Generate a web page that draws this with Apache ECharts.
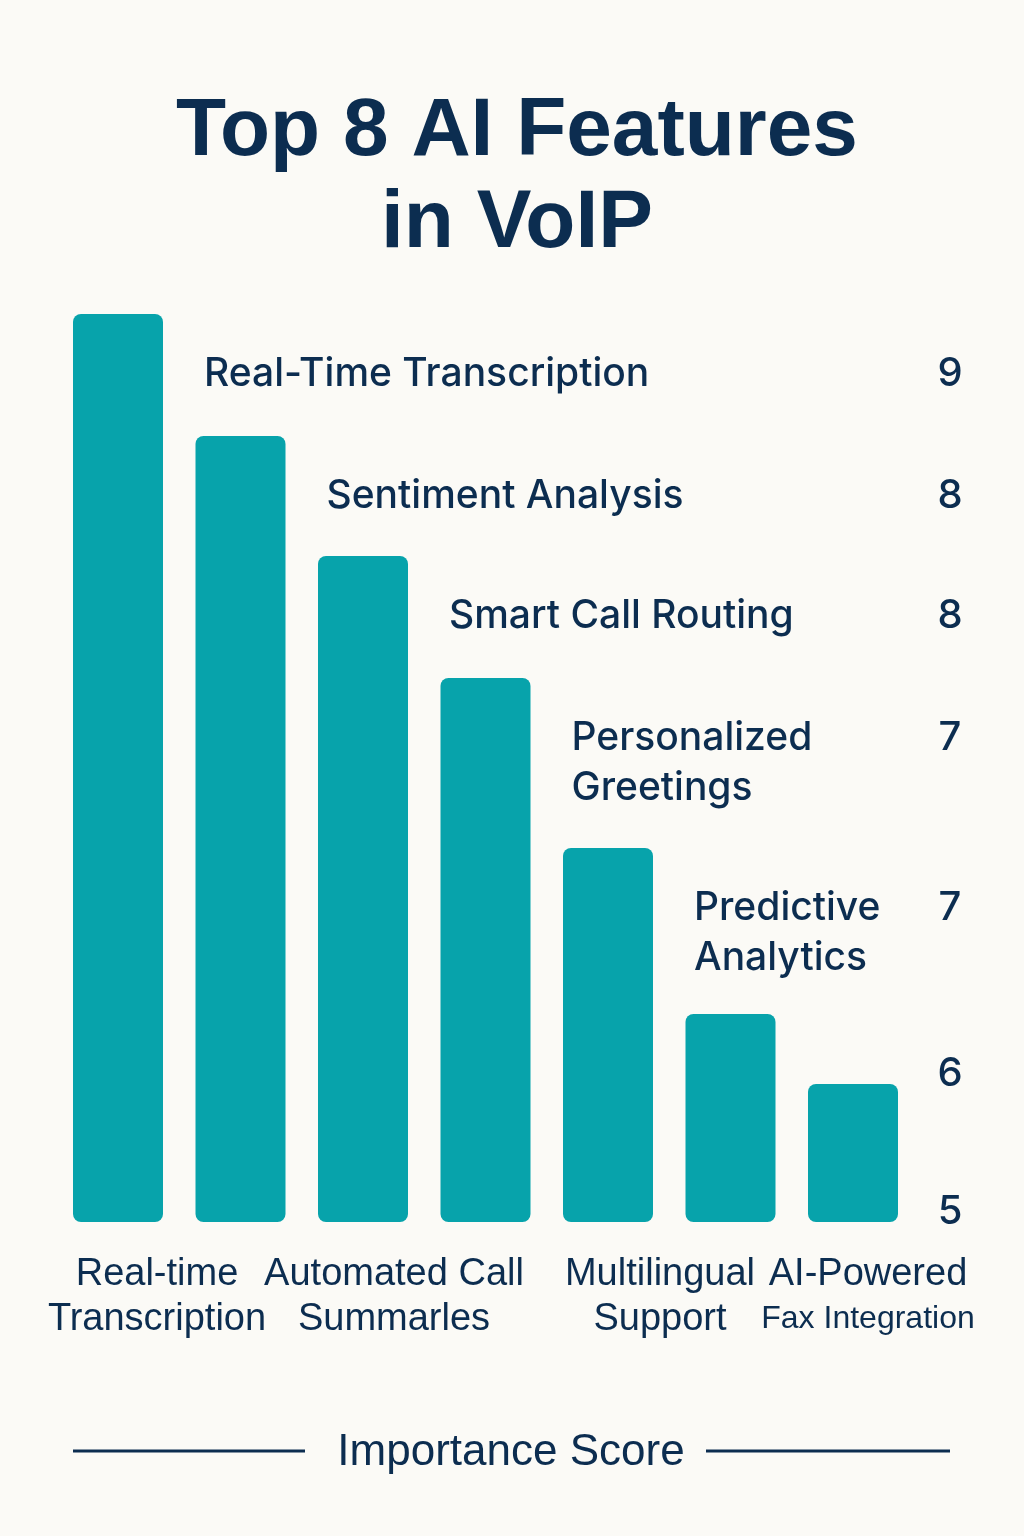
<!DOCTYPE html>
<html>
<head>
<meta charset="utf-8">
<title>Top 8 AI Features in VoIP</title>
<script src="https://cdn.jsdelivr.net/npm/echarts@6/dist/echarts.min.js"></script>
<style>
    html, body { margin: 0; padding: 0; background: #fbfaf6; }
    #chart { width: 1024px; height: 1536px; }
</style>
</head>
<body>
<div id="chart"></div>
<script>
// bar heights, left to right (axis starts at 5)
var barValues = [9.54, 8.93, 8.33, 7.72, 6.87, 6.04, 5.69];
// names written next to each bar
var barNames = ['Real-Time Transcription', 'Sentiment Analysis', 'Smart Call Routing',
    'Personalized\nGreetings', 'Predictive\nAnalytics', '', ''];
// scores on the right
var scoreLabels = ['9', '8', '8', '7', '7', '6', ''];
// labels under the bars
var axisCategories = ['Real-time\nTranscription', 'Automated Call\nSummarles',
    'Multilingual\nSupport', 'AI-Powered\nFax Integration'];
var yMin = 5, yMax = 10;

var navy = '#0c2d50';
var teal = '#07a3ab';

var chart = echarts.init(document.getElementById('chart'));

// score points sit on the bar tops, plus the axis base
var scoreData = [];
barValues.forEach(function (v, i) {
    if (scoreLabels[i]) scoreData.push({value: [0, v], label: {formatter: scoreLabels[i], offset: [0, 60]}});
});
scoreData.push({value: [0, yMin], label: {formatter: String(yMin), offset: [0, -10]}});

var option = {
    backgroundColor: '#fbfaf6',
    title: [
        {
            text: 'Top 8 AI Features\nin VoIP',
            left: 512,
            top: 81,
            textAlign: 'center',
            textStyle: {
                fontFamily: 'Liberation Sans',
                fontWeight: 'bold',
                fontSize: 82,
                lineHeight: 92,
                color: navy
            }
        },
        {
            text: 'Importance Score',
            left: 506,
            top: 1423,
            textAlign: 'center',
            textStyle: {
                fontFamily: 'Liberation Sans',
                fontWeight: 'normal',
                fontSize: 44,
                lineHeight: 50,
                color: navy
            }
        }
    ],
    grid: [
        {left: 56.75, width: 857.5, top: 222, bottom: 314},   // bars
        {left: 38.5, width: 948, top: 222, bottom: 314},      // bottom labels
        {left: 930, width: 40, top: 222, bottom: 314}         // scores
    ],
    xAxis: [
        {
            gridIndex: 0, type: 'category', data: barNames,
            axisLine: {show: false}, axisTick: {show: false}, axisLabel: {show: false}
        },
        {
            gridIndex: 1, type: 'category', data: axisCategories,
            axisLine: {show: false}, axisTick: {show: false},
            axisLabel: {
                interval: 0,
                margin: 30,
                formatter: function (value, idx) {
                    var lines = value.split('\n');
                    if (idx === 2) return lines.map(function (l) { return '{shift|' + l + '}'; }).join('\n');
                    if (idx === 3) return '{a|' + lines[0] + '}\n{small|' + lines[1] + '}';
                    return lines.map(function (l) { return '{a|' + l + '}'; }).join('\n');
                },
                rich: {
                    a: {fontFamily: 'Liberation Sans', fontSize: 38, lineHeight: 45, color: navy},
                    shift: {fontFamily: 'Liberation Sans', fontSize: 38, lineHeight: 45, color: navy, padding: [0, 0, 0, 58]},
                    small: {fontFamily: 'Liberation Sans', fontSize: 32, lineHeight: 45, color: navy}
                }
            }
        },
        {
            gridIndex: 2, type: 'category', data: ['score'],
            axisLine: {show: false}, axisTick: {show: false}, axisLabel: {show: false}
        }
    ],
    yAxis: [
        {gridIndex: 0, type: 'value', min: yMin, max: yMax, show: false},
        {gridIndex: 1, type: 'value', min: yMin, max: yMax, show: false},
        {gridIndex: 2, type: 'value', min: yMin, max: yMax, show: false}
    ],
    series: [
        {
            type: 'bar',
            xAxisIndex: 0,
            yAxisIndex: 0,
            data: barValues,
            barWidth: 90,
            itemStyle: {color: teal, borderRadius: 8},
            label: {
                show: true,
                position: [131, 35],
                align: 'left',
                verticalAlign: 'top',
                formatter: function (p) { return barNames[p.dataIndex]; },
                fontFamily: 'Inter',
                fontWeight: 500,
                fontSize: 39,
                lineHeight: 50,
                color: navy
            },
            silent: true
        },
        {
            type: 'scatter',
            xAxisIndex: 2,
            yAxisIndex: 2,
            data: scoreData,
            symbolSize: 0,
            itemStyle: {opacity: 1},
            label: {
                show: true,
                position: 'inside',
                fontFamily: 'Inter',
                fontWeight: 500,
                fontSize: 40,
                color: navy
            },
            silent: true
        }
    ],
    graphic: [
        {type: 'line', shape: {x1: 73, y1: 1451, x2: 305, y2: 1451}, style: {stroke: navy, lineWidth: 3}},
        {type: 'line', shape: {x1: 706, y1: 1451, x2: 950, y2: 1451}, style: {stroke: navy, lineWidth: 3}}
    ]
};

chart.setOption(option);
</script>
</body>
</html>
